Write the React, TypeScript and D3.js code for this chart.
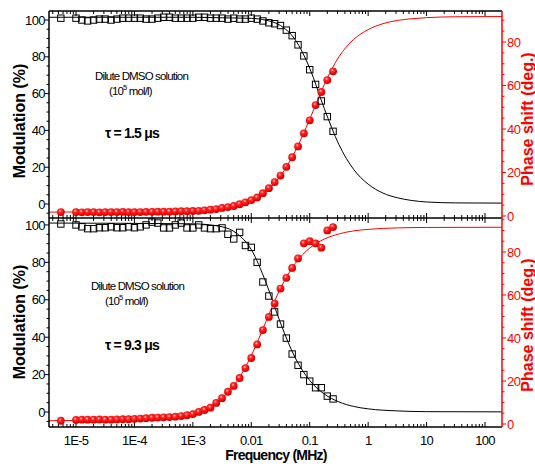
import React from "react";
import * as d3 from "d3";

// Frequencies (MHz) of the measured points (shared by both panels)
const freqMHz = [
  5.5e-6,
  1e-5, 1.26e-5, 1.58e-5, 2e-5, 2.51e-5, 3.16e-5, 3.98e-5, 5.01e-5, 6.31e-5, 7.94e-5,
  1e-4, 1.26e-4, 1.58e-4, 2e-4, 2.51e-4, 3.16e-4, 3.98e-4, 5.01e-4, 6.31e-4, 7.94e-4,
  1e-3, 1.26e-3, 1.58e-3, 2e-3, 2.51e-3, 3.16e-3, 3.98e-3, 5.01e-3, 6.31e-3, 7.94e-3,
  1e-2, 1.26e-2, 1.58e-2, 2e-2, 2.51e-2, 3.16e-2, 3.98e-2, 5.01e-2, 6.31e-2, 7.94e-2,
  0.1, 0.126, 0.158, 0.2, 0.251,
];

// Top panel (tau = 1.5 us)
const topModulation = [
  101,
  101, 100, 99.5, 100, 100.5, 100.5, 100, 100.5, 101, 101,
  101, 101, 100.5, 100.5, 101, 101.5, 101.5, 101, 101, 101,
  101, 101.5, 101.5, 101, 101, 101, 100.5, 101, 100.5, 100.5,
  101, 100.5, 99.5, 98.5, 98, 97, 94.5, 91.5, 86.5, 80.5,
  73, 65, 56, 47.5, 39.5,
];
const topPhase = [
  1.8,
  1.8, 1.7, 1.8, 1.8, 1.7, 1.8, 1.8, 1.8, 1.9, 1.8,
  1.8, 1.8, 1.9, 1.9, 2.0, 2.0, 2.0, 2.1, 2.2, 2.2,
  2.3, 2.4, 2.6, 2.9, 3.2, 3.7, 4.1, 4.6, 5.4, 6.3,
  7.3, 8.5, 10.5, 12.8, 15.6, 18.6, 22.6, 27, 32, 38,
  44, 51, 57, 62.5, 66.5,
];
const topModulationFit: [number, number][] = [
  [3.45e-6, 101.5], [1e-3, 101.5], [3.16e-3, 101.2], [1e-2, 100.9], [1.78e-2, 99.9],
  [3.16e-2, 97], [5.62e-2, 89.4], [0.1, 73.8], [0.178, 51.8], [0.316, 32.3],
  [0.562, 18.9], [1, 10.8], [1.78, 6], [3.16, 3.4], [5.62, 1.9], [10, 1.1],
  [31.6, 0.6], [195, 0.5],
];
const topPhaseFit: [number, number][] = [
  [3.45e-6, 1.8], [1e-4, 1.9], [1e-3, 2.3], [3.16e-3, 3.5], [1e-2, 7.2],
  [1.78e-2, 11.3], [3.16e-2, 18.4], [5.62e-2, 29.7], [0.1, 44.5], [0.178, 60.5],
  [0.316, 73.2], [0.562, 81.1], [1, 85.7], [1.78, 88.4], [3.16, 89.9],
  [5.62, 90.7], [10, 91.2], [31.6, 91.6], [195, 91.7],
];

// Bottom panel (tau = 9.3 us)
const bottomModulation = [
  100.5,
  100, 99, 98, 98, 98.5, 98.5, 99, 98.5, 98.5, 99,
  98.5, 99, 100, 101.5, 101, 98.4, 98.4, 100, 101, 98.4,
  98.4, 100, 98.4, 98, 98, 98.4, 95, 92.5, 96, 89,
  88, 80, 69.5, 62, 53.5, 47, 39.5, 31, 25, 20,
  16.5, 13, 13, 8.5, 7,
];
const bottomPhase = [
  1.5,
  1.9, 2.0, 2.0, 2.0, 2.1, 2.0, 2.0, 2.1, 2.2, 2.2,
  2.4, 2.5, 2.7, 2.9, 3.0, 3.1, 3.2, 3.4, 3.7, 4.1,
  4.6, 5.6, 6.5, 7.6, 9.8, 12, 15, 17.7, 21.4, 26,
  30.7, 37, 43.7, 49.8, 56, 63, 68, 72.6, 77, 84,
  85, 84, 82, 90, 91.6,
];
const bottomModulationFit: [number, number][] = [
  [3.45e-6, 101], [1e-3, 100.6], [3.16e-3, 99], [5.62e-3, 95.5], [1e-2, 86.8],
  [1.78e-2, 69.3], [3.16e-2, 47.6], [5.62e-2, 29.1], [0.1, 16.9], [0.178, 9.6],
  [0.316, 5.4], [0.562, 3.0], [1, 1.7], [3.16, 0.6], [10, 0.2], [195, 0.1],
];
const bottomPhaseFit: [number, number][] = [
  [3.45e-6, 1.5], [3.16e-4, 2.6], [1e-3, 4.8], [1.78e-3, 7.4], [3.16e-3, 12],
  [5.62e-3, 19.7], [1e-2, 31.8], [1.78e-2, 47.6], [3.16e-2, 63.1], [5.62e-2, 74.6],
  [0.1, 81.8], [0.178, 86], [0.316, 88.4], [0.562, 89.8], [1, 90.5],
  [3.16, 91.2], [10, 91.4], [195, 91.5],
];

const xTickValues = [1e-5, 1e-4, 1e-3, 0.01, 0.1, 1, 10, 100];
const xTickLabels = ["1E-5", "1E-4", "1E-3", "0.01", "0.1", "1", "10", "100"];
const leftTicks = [0, 20, 40, 60, 80, 100];
const rightTicks = [0, 20, 40, 60, 80];

const W = 535;
const H = 464;
const X0 = 49;
const X1 = 502;
const FONT = "'Liberation Sans', Arial, Helvetica, sans-serif";
const RED = "#ff0000";

const x = d3.scaleLog().domain([3.45e-6, 195.4]).range([X0, X1]);
const xMinor = x.ticks().filter((t) => t >= 3.45e-6 && t <= 195.4);

type PanelProps = {
  id: string;
  y0: number;
  y1: number;
  lDomain: [number, number];
  rDomain: [number, number];
  mod: number[];
  phase: number[];
  modFit: [number, number][];
  phaseFit: [number, number][];
  tau: string;
  annY: number;
  tauY: number;
  leftLabelY: number;
  rightLabelY: number;
  annX: number;
};

function Panel(p: PanelProps) {
  const yL = d3.scaleLinear().domain(p.lDomain).range([p.y1, p.y0]);
  const yR = d3.scaleLinear().domain(p.rDomain).range([p.y1, p.y0]);
  const lineL = d3
    .line<[number, number]>()
    .x((d) => x(d[0]))
    .y((d) => yL(d[1]))
    .curve(d3.curveMonotoneX);
  const lineR = d3
    .line<[number, number]>()
    .x((d) => x(d[0]))
    .y((d) => yR(d[1]))
    .curve(d3.curveMonotoneX);
  const leftMinor = d3.range(-10, 106, 5).filter(
    (v) => v >= p.lDomain[0] && v <= p.lDomain[1] && v % 20 !== 0
  );
  const rightMinor = d3.range(0, 96, 5).filter(
    (v) => v >= p.rDomain[0] && v <= p.rDomain[1] && v % 20 !== 0
  );
  const sq = 6.4;
  return (
    <g>
      <defs>
        <clipPath id={`clip-${p.id}`}>
          <rect x={X0} y={p.y0} width={X1 - X0} height={p.y1 - p.y0} />
        </clipPath>
      </defs>
      {xMinor.map((t, i) => {
        const major = xTickValues.some((v) => Math.abs(v - t) / v < 1e-6);
        const len = major ? 5 : 3;
        return (
          <g key={`xt${i}`} stroke="#000" strokeWidth={1}>
            <line x1={x(t)} x2={x(t)} y1={p.y0} y2={p.y0 + len} />
            <line x1={x(t)} x2={x(t)} y1={p.y1} y2={p.y1 - len} />
          </g>
        );
      })}
      {leftTicks.map((v) => (
        <g key={`lt${v}`}>
          <line x1={X0 - 4} x2={X0} y1={yL(v)} y2={yL(v)} stroke="#000" strokeWidth={1} />
          <text
            x={45}
            y={yL(v)}
            dy="0.36em"
            textAnchor="end"
            fontSize={13}
            letterSpacing={-0.6}
            fontFamily={FONT}
            fill="#000"
          >
            {v}
          </text>
        </g>
      ))}
      {leftMinor.map((v) => (
        <line key={`lm${v}`} x1={X0 - 2.5} x2={X0} y1={yL(v)} y2={yL(v)} stroke="#000" strokeWidth={1} />
      ))}
      {rightTicks.map((v) => (
        <g key={`rt${v}`}>
          <line x1={X1} x2={X1 + 4} y1={yR(v)} y2={yR(v)} stroke={RED} strokeWidth={1} />
          <text
            x={507}
            y={yR(v)}
            dy="0.36em"
            textAnchor="start"
            fontSize={13}
            letterSpacing={-0.6}
            fontFamily={FONT}
            fill={RED}
          >
            {v}
          </text>
        </g>
      ))}
      {rightMinor.map((v) => (
        <line key={`rm${v}`} x1={X1} x2={X1 + 2.5} y1={yR(v)} y2={yR(v)} stroke={RED} strokeWidth={1} />
      ))}
      <g clipPath={`url(#clip-${p.id})`}>
        <path d={lineL(p.modFit) || ""} fill="none" stroke="#000" strokeWidth={1} />
        <path d={lineR(p.phaseFit) || ""} fill="none" stroke={RED} strokeWidth={1} />
      </g>
      {freqMHz.map((f, i) => (
        <circle key={`c${i}`} cx={x(f)} cy={yR(p.phase[i])} r={3.9} fill="url(#ball)" />
      ))}
      {freqMHz.map((f, i) => (
        <rect
          key={`s${i}`}
          x={x(f) - sq / 2}
          y={yL(p.mod[i]) - sq / 2}
          width={sq}
          height={sq}
          fill="none"
          stroke="#000"
          strokeWidth={1}
        />
      ))}
      <text
        x={p.annX}
        y={p.annY}
        fontSize={11.5}
        letterSpacing={-0.85}
        fontFamily={FONT}
        fill="#000"
      >
        Dilute DMSO solution
      </text>
      <text
        x={p.annX + 14}
        y={p.annY + 15}
        fontSize={11.5}
        letterSpacing={-0.85}
        fontFamily={FONT}
        fill="#000"
      >
        (10
        <tspan fontSize={7.5} dy={-5}>
          5
        </tspan>
        <tspan dy={5}> mol/l)</tspan>
      </text>
      <text
        x={105}
        y={p.tauY}
        fontSize={14}
        fontWeight="bold"
        letterSpacing={-0.8}
        fontFamily={FONT}
        fill="#000"
      >
        {p.tau}
      </text>
      <text
        transform={`translate(25,${p.leftLabelY}) rotate(-90)`}
        textAnchor="middle"
        fontSize={16}
        fontWeight="bold"
        fontFamily={FONT}
        fill="#000"
      >
        Modulation (%)
      </text>
      <text
        transform={`translate(533,${p.rightLabelY}) rotate(-90)`}
        textAnchor="middle"
        fontSize={16}
        fontWeight="bold"
        fontFamily={FONT}
        fill={RED}
      >
        Phase shift (deg.)
      </text>
    </g>
  );
}

export default function App() {
  return (
    <svg
      width={W}
      height={H}
      viewBox={`0 0 ${W} ${H}`}
      style={{ position: "absolute", left: 0, top: 0, background: "#fff" }}
    >
      <defs>
        <radialGradient id="ball" cx="0.4" cy="0.35" r="0.65">
          <stop offset="0" stopColor="#ffd0d0" />
          <stop offset="0.3" stopColor="#ff2a2a" />
          <stop offset="0.8" stopColor="#ee0000" />
          <stop offset="1" stopColor="#c00000" />
        </radialGradient>
      </defs>
      <rect x={0} y={0} width={W} height={H} fill="#fff" />
      <Panel
        id="top"
        y0={11}
        y1={218}
        lDomain={[-7.6, 104.9]}
        rDomain={[-0.92, 94.25]}
        mod={topModulation}
        phase={topPhase}
        modFit={topModulationFit}
        phaseFit={topPhaseFit}
        tau={"\u03c4 = 1.5 \u03bcs"}
        annX={95}
        annY={80}
        tauY={138}
        leftLabelY={121}
        rightLabelY={119}
      />
      <Panel
        id="bot"
        y0={218}
        y1={427}
        lDomain={[-8.0, 103.7]}
        rDomain={[-1.4, 95.8]}
        mod={bottomModulation}
        phase={bottomPhase}
        modFit={bottomModulationFit}
        phaseFit={bottomPhaseFit}
        tau={"\u03c4 = 9.3 \u03bcs"}
        annX={91}
        annY={290}
        tauY={350}
        leftLabelY={322}
        rightLabelY={325}
      />
      <line x1={X0} x2={X1} y1={11} y2={11} stroke="#000" strokeWidth={1.5} />
      <line x1={X0} x2={X1} y1={218} y2={218} stroke="#000" strokeWidth={1.5} />
      <line x1={X0} x2={X1} y1={427} y2={427} stroke="#000" strokeWidth={1.5} />
      <line x1={X0} x2={X0} y1={11} y2={427} stroke="#000" strokeWidth={1.5} />
      <line x1={X1} x2={X1} y1={11} y2={427} stroke={RED} strokeWidth={1.5} />
      {xTickValues.map((v, i) => (
        <text
          key={`xl${i}`}
          x={x(v)}
          y={445}
          textAnchor="middle"
          fontSize={13}
          letterSpacing={-0.7}
          fontFamily={FONT}
          fill="#000"
        >
          {xTickLabels[i]}
        </text>
      ))}
      <text
        x={276}
        y={460}
        textAnchor="middle"
        fontSize={14}
        fontWeight="bold"
        letterSpacing={-0.75}
        fontFamily={FONT}
        fill="#000"
      >
        Frequency (MHz)
      </text>
    </svg>
  );
}
